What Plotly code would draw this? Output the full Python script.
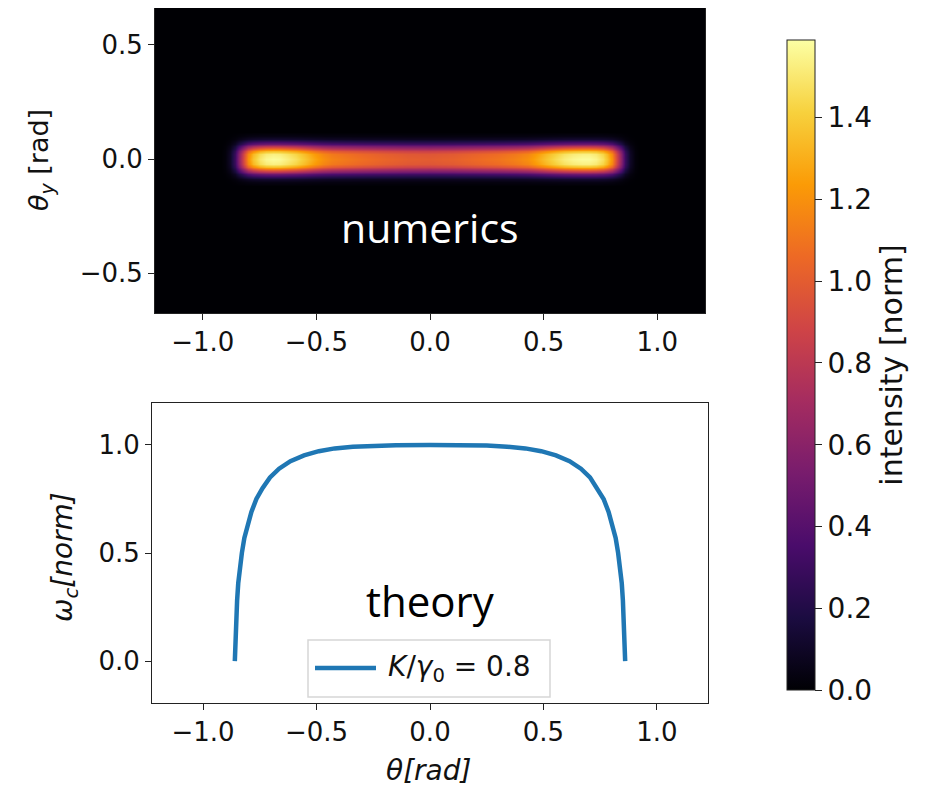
import plotly.graph_objects as go
import numpy as np

# ---- numerics: intensity profile ----
theta_x = [-1.25, -0.92, -0.90, -0.88, -0.86, -0.84, -0.82, -0.80, -0.78, -0.75,
           -0.72, -0.69, -0.66, -0.63, -0.59, -0.55, -0.51, -0.47, -0.43, -0.38,
           -0.30, -0.20, -0.10, 0.00, 0.10, 0.20, 0.30, 0.38, 0.43, 0.47,
           0.51, 0.55, 0.59, 0.63, 0.67, 0.70, 0.73, 0.76, 0.78, 0.80,
           0.82, 0.84, 0.86, 0.88, 0.90, 0.92, 1.25]
intensity_x = [0.0, 0.0, 0.02, 0.10, 0.30, 0.62, 0.95, 1.20, 1.37, 1.50,
               1.56, 1.58, 1.57, 1.53, 1.47, 1.38, 1.28, 1.20, 1.15, 1.12,
               1.08, 1.04, 1.01, 1.00, 1.02, 1.06, 1.10, 1.15, 1.20, 1.28,
               1.37, 1.45, 1.52, 1.56, 1.58, 1.58, 1.55, 1.47, 1.37, 1.20,
               0.95, 0.62, 0.30, 0.10, 0.02, 0.0, 0.0]
theta_y = [-0.70, -0.12, -0.10, -0.088, -0.077, -0.066, -0.055, -0.045, -0.035, -0.02, 0.0,
           0.02, 0.035, 0.045, 0.055, 0.066, 0.077, 0.088, 0.10, 0.12, 0.70]
profile_y = [0.0, 0.0, 0.03, 0.08, 0.17, 0.31, 0.50, 0.70, 0.86, 0.97, 1.0,
             0.97, 0.86, 0.70, 0.50, 0.31, 0.17, 0.08, 0.03, 0.0, 0.0]

# ---- theory curve ----
theta = [-0.860, -0.859, -0.857, -0.854, -0.850, -0.845, -0.838, -0.829, -0.818, -0.804,
         -0.787, -0.765, -0.738, -0.705, -0.665, -0.615, -0.555, -0.490, -0.420, -0.340,
         -0.250, -0.150, 0.000,
         0.150, 0.250, 0.340, 0.420, 0.490, 0.555, 0.615, 0.665, 0.705, 0.738,
         0.765, 0.787, 0.804, 0.818, 0.829, 0.838, 0.845, 0.850, 0.854, 0.857,
         0.859, 0.860]
omega_c = [0.00, 0.05, 0.12, 0.20, 0.28, 0.36, 0.43, 0.50, 0.57, 0.63,
           0.69, 0.75, 0.80, 0.85, 0.89, 0.925, 0.952, 0.971, 0.984, 0.992,
           0.997, 0.999, 1.000,
           0.999, 0.997, 0.992, 0.984, 0.971, 0.952, 0.925, 0.89, 0.85, 0.80,
           0.75, 0.69, 0.63, 0.57, 0.50, 0.43, 0.36, 0.28, 0.20, 0.12,
           0.05, 0.00]
legend_label = "<i>K</i>/<i>γ</i><sub>0</sub> = 0.8"

z = np.outer(np.array(profile_y), np.array(intensity_x))

W, H = 933, 792
OFF = 8  # page body margin
def px(x):
    return (x - OFF) / W
def py(y):
    return 1 - (y - OFF) / H

tickfont = dict(family="DejaVu Sans", size=26, color="#111")
BLUE = "#1f77b4"

fig = go.Figure()
fig.add_trace(go.Heatmap(
    x=theta_x, y=theta_y, z=z, zmin=0, zmax=1.59, zsmooth="best",
    colorscale="Inferno", xaxis="x", yaxis="y", showscale=True, showlegend=False,
    hoverinfo="skip",
    colorbar=dict(
        x=px(787), xanchor="left", xpad=0, ypad=0,
        y=py(365), yanchor="middle", len=650 / H, lenmode="fraction",
        thickness=28, thicknessmode="pixels",
        outlinewidth=1, outlinecolor="#222",
        tickmode="array", tickvals=[0, 0.2, 0.4, 0.6, 0.8, 1.0, 1.2, 1.4],
        ticktext=["0.0", "0.2", "0.4", "0.6", "0.8", "1.0", "1.2", "1.4"],
        ticks="outside", ticklen=7, tickcolor="#222",
        tickfont=dict(family="DejaVu Sans", size=28, color="#111"),
        title=dict(text="intensity [norm]", side="right",
                   font=dict(family="DejaVu Sans", size=30, color="#111")),
    ),
))
fig.add_trace(go.Scatter(
    x=theta, y=omega_c, mode="lines", xaxis="x2", yaxis="y2",
    line=dict(color=BLUE, width=4.5), name=legend_label, showlegend=False,
))

axis_common = dict(showgrid=False, zeroline=False, ticks="outside", ticklen=6,
                   tickcolor="#222", tickfont=tickfont, showline=True,
                   linecolor="#222", linewidth=1, mirror=True, automargin=False)
xt = dict(tickvals=[-1, -0.5, 0, 0.5, 1], ticktext=["−1.0", "−0.5", "0.0", "0.5", "1.0"])

fig.update_layout(
    width=W, height=H, margin=dict(l=0, r=0, t=0, b=0),
    paper_bgcolor="white", plot_bgcolor="white",
    xaxis=dict(domain=[px(155), px(705)], range=[-1.21, 1.21], anchor="y", **xt, **axis_common),
    yaxis=dict(domain=[py(313), py(8)], range=[-0.675, 0.662], anchor="x",
               tickvals=[-0.5, 0, 0.5], ticktext=["−0.5", "0.0", "0.5"], **axis_common),
    xaxis2=dict(domain=[px(152), px(708)], range=[-1.225, 1.225], anchor="y2", **xt, **axis_common),
    yaxis2=dict(domain=[py(703), py(403)], range=[-0.194, 1.194], anchor="x2",
                tickvals=[0, 0.5, 1], ticktext=["0.0", "0.5", "1.0"], **axis_common),
    showlegend=False,
    shapes=[
        # legend box
        dict(type="rect", xref="paper", yref="paper", x0=px(308), x1=px(550),
             y0=py(697), y1=py(640), line=dict(color="#d6d6d6", width=1.5),
             fillcolor="rgba(255,255,255,0.85)", layer="above"),
        dict(type="line", xref="paper", yref="paper", x0=px(315), x1=px(376),
             y0=py(668), y1=py(668), line=dict(color=BLUE, width=4.5), layer="above"),
    ],
    annotations=[
        dict(text="numerics", x=0, y=-0.30, xref="x", yref="y", showarrow=False,
             font=dict(family="Open Sans", size=41, color="white")),
        dict(text="theory", x=0, y=0.28, xref="x2", yref="y2", showarrow=False,
             font=dict(family="Open Sans", size=42, color="black")),
        dict(text=legend_label, x=px(386), y=py(668), xref="paper", yref="paper",
             xanchor="left", yanchor="middle", showarrow=False,
             font=dict(family="DejaVu Sans", size=28, color="#111")),
        dict(text="<i>θ</i><sub><i>y</i></sub> [rad]", x=px(40), y=py(160),
             xref="paper", yref="paper", textangle=-90, showarrow=False,
             xanchor="center", yanchor="middle",
             font=dict(family="DejaVu Sans", size=27, color="#111")),
        dict(text="<i>ω</i><sub><i>c</i></sub><i>[norm]</i>", x=px(64), y=py(557),
             xref="paper", yref="paper", textangle=-90, showarrow=False,
             xanchor="center", yanchor="middle",
             font=dict(family="DejaVu Sans", size=28, color="#111")),
        dict(text="<i>θ[rad]</i>", x=px(428), y=py(770), xref="paper", yref="paper",
             showarrow=False, xanchor="center", yanchor="middle",
             font=dict(family="DejaVu Sans", size=28, color="#111")),
    ],
)

fig.write_html("out.html")
